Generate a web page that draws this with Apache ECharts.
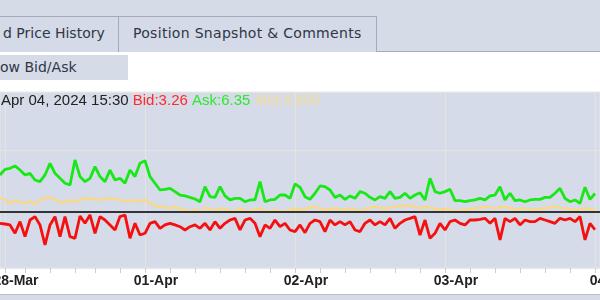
<!DOCTYPE html>
<html><head><meta charset="utf-8">
<script src="https://cdn.jsdelivr.net/npm/echarts@6/dist/echarts.min.js"></script>
<style>
html,body{margin:0;padding:0;width:600px;height:300px;overflow:hidden;background:#fff;font-family:Tahoma,"DejaVu Sans",sans-serif;}
#chart{position:absolute;left:0;top:0;width:600px;height:300px;z-index:2;}
.strip{position:absolute;left:0;top:0;width:600px;height:51px;background:#d6dbe8;border-bottom:1px solid #a3abbb;z-index:1;}
.tab{position:absolute;top:16px;height:36px;box-sizing:border-box;border:1px solid #a3abbb;border-bottom:none;background:#d4dae7;color:#2f3646;font-size:14px;line-height:33px;white-space:nowrap;z-index:1;}
.btn{position:absolute;left:0;top:55px;width:128px;height:25px;background:#d6dbe8;color:#2f3646;font-size:14px;line-height:25px;white-space:nowrap;z-index:1;}
.band{position:absolute;left:0;top:294px;width:600px;height:6px;background:#d6dbe8;border-top:1px solid #b9c0cd;z-index:1;}
</style></head>
<body>
<div class="strip"></div>
<div class="tab" style="left:-1px;width:120px;padding-left:3px;">d Price History</div>
<div class="tab" style="left:118px;width:259px;padding-left:14px;letter-spacing:0.3px;">Position Snapshot &amp; Comments</div>
<div class="btn">ow Bid/Ask</div>
<div class="band"></div>
<div id="chart"></div>
<script>
// trading-day labels and the slot index where each day starts (20-minute slots)
const dayLabels = ['28-Mar', '01-Apr', '02-Apr', '03-Apr', '04-Apr'];
const dayStart = [1, 29, 59, 89, 119];
const tickIdx = [1, 5, 10, 15, 19, 24, 29, 34, 39, 44, 49, 54, 59, 64, 69, 74, 79, 84, 89, 94, 99, 104, 109, 114, 119];
const slotCount = 121;

const headerTime = 'Apr 04, 2024 15:30';
const lastBid = 3.26;
const lastAsk = 6.35;
const lastMid = 4.805;

const ask = [7.93,8.41,8.50,8.70,8.35,7.93,8.07,7.50,7.36,7.93,8.92,8.07,7.64,7.22,7.08,9.21,7.79,7.36,7.64,8.64,
  7.79,7.36,8.35,7.50,7.64,7.22,8.35,7.79,8.92,9.15,7.79,7.22,6.65,6.71,6.79,6.51,6.22,6.14,6.02,5.88,
  5.65,6.93,6.08,6.02,6.93,6.14,5.80,5.94,5.94,5.65,5.80,5.80,7.36,5.65,5.80,5.85,6.22,6.22,5.94,7.16,
  6.88,6.08,5.85,6.37,6.99,6.93,6.65,6.02,6.22,5.85,6.14,5.94,6.51,6.37,6.02,5.80,6.08,5.94,6.51,5.94,
  6.02,6.37,5.94,6.22,6.42,5.80,7.64,6.51,6.37,6.51,6.71,5.74,5.74,5.65,5.74,5.80,5.94,5.80,6.14,6.22,
  6.93,5.80,6.37,5.74,5.80,5.65,5.80,5.85,5.85,6.02,6.02,6.37,6.79,5.94,5.65,5.80,5.51,6.88,5.85,6.35];

const bid = [3.81,3.75,3.67,2.96,3.95,2.67,4.09,4.38,3.67,1.96,3.67,4.38,2.67,4.38,2.67,2.53,4.43,3.81,4.52,2.96,
  4.38,4.09,3.67,3.24,4.38,4.52,2.53,3.81,2.81,2.96,3.81,3.95,3.38,3.67,3.81,3.67,3.52,3.24,3.52,3.67,
  3.38,3.81,3.24,3.95,3.38,3.81,4.09,4.23,3.24,4.09,4.23,3.81,2.67,3.67,3.38,4.09,3.52,3.81,3.24,3.10,
  3.67,3.01,3.81,4.09,3.95,3.10,4.09,3.67,3.95,3.67,3.95,3.24,3.10,3.81,4.09,3.67,3.95,3.67,4.23,3.38,
  3.81,4.09,4.23,4.38,2.81,4.09,2.53,2.96,3.81,3.24,3.95,4.09,3.81,3.67,4.09,4.09,4.15,4.23,3.81,4.23,
  2.39,4.23,3.95,4.23,3.67,4.09,3.95,3.95,4.23,4.09,3.95,3.81,4.23,4.09,4.23,3.95,4.38,2.39,3.81,3.26];

const mid = [5.94,5.85,5.51,5.74,5.65,5.51,5.65,5.42,5.80,5.94,6.02,5.80,5.57,5.57,5.80,5.65,5.80,5.94,5.88,5.85,
  5.80,5.85,5.94,5.85,5.80,5.68,5.74,5.80,5.65,5.80,5.51,5.31,5.22,5.17,5.08,5.22,5.05,4.94,4.80,5.00,
  4.71,5.17,5.00,4.86,5.08,5.00,4.89,4.83,5.08,4.86,4.89,4.97,5.08,4.86,4.83,4.94,4.86,4.83,4.94,5.05,
  4.94,5.05,5.14,5.22,5.05,4.94,5.02,5.08,5.00,4.94,5.02,5.02,4.80,5.02,5.14,5.22,5.14,5.08,5.14,5.22,
  5.28,5.34,5.28,5.22,5.08,5.20,5.17,5.05,4.94,5.05,4.94,4.83,4.92,4.94,5.02,5.08,5.14,5.22,5.17,5.08,
  5.17,5.22,5.11,4.97,5.02,5.08,5.00,4.94,5.02,5.08,5.17,5.22,5.14,5.08,5.00,4.94,5.00,5.08,5.02,4.94];

// category axis: one entry per slot
const cats = [];
for (let i = 0; i < slotCount; i++) {
  let d = 0;
  for (let k = 0; k < dayStart.length; k++) if (i >= dayStart[k]) d = k;
  cats.push(dayLabels[d] + ' #' + i);
}

const FONT = 'Arial, "Liberation Sans", sans-serif';
const labelStyle = {fontFamily: FONT, fontSize: 14, fontWeight: 'bold', color: '#222'};
const chart = echarts.init(document.getElementById('chart'), null, {renderer: 'canvas'});
const lineBase = {type: 'line', showSymbol: false, symbol: 'none', animation: false, smooth: false};
chart.setOption({
  animation: false,
  backgroundColor: 'transparent',
  title: {
    left: 1, top: 93, padding: 0,
    text: '{t|' + headerTime + '} {b|Bid:' + lastBid.toFixed(2) + '} {a|Ask:' + lastAsk.toFixed(2) + '} {m|Mid:' + lastMid.toFixed(3) + '}',
    textStyle: {
      fontFamily: FONT, fontSize: 15, fontWeight: 'normal',
      rich: {
        t: {color: '#222222', fontSize: 15, fontFamily: FONT},
        b: {color: '#ff2a2a', fontSize: 15, fontFamily: FONT},
        a: {color: '#2ee82e', fontSize: 15, fontFamily: FONT},
        m: {color: '#f3dc98', fontSize: 15, fontFamily: FONT}
      }
    }
  },
  grid: {left: 0, right: 0, top: 92, bottom: 32, containLabel: false, outerBoundsMode: 'none',
    show: true, backgroundColor: '#d5dbe8', borderColor: '#e4e6ea', borderWidth: 1},
  xAxis: {
    type: 'category', data: cats, boundaryGap: false,
    axisLine: {show: true, lineStyle: {color: '#e4e6ea'}},
    axisTick: {show: true, length: 5, interval: (i) => tickIdx.includes(i), lineStyle: {color: '#c9ccd2'}},
    axisLabel: {
      show: true, interval: (i) => dayStart.includes(i), margin: 6, hideOverlap: false,
      formatter: (v, i) => {
        const k = dayStart.indexOf(i);
        if (k < 0) return '';
        return (k === dayStart.length - 1 ? '{e|' : '{d|') + dayLabels[k] + '}';
      },
      rich: {
        d: Object.assign({padding: [0, 0, 0, 22]}, labelStyle),
        e: Object.assign({padding: [0, 0, 0, 34]}, labelStyle)
      }
    },
    splitLine: {show: true, interval: (i) => dayStart.includes(i), lineStyle: {color: '#e6e4dc', width: 1}}
  },
  yAxis: {
    type: 'value', min: 0, max: 15, interval: 10,
    axisLine: {show: false}, axisTick: {show: false}, axisLabel: {show: false},
    splitLine: {show: true, lineStyle: {color: '#e6e4dc', width: 1}}
  },
  series: [
    Object.assign({}, lineBase, {name: 'Mid', data: mid, lineStyle: {color: '#f8d98a', width: 2.5}, z: 2}),
    Object.assign({}, lineBase, {name: 'Bid', data: bid, lineStyle: {color: '#f51010', width: 2.8}, z: 3}),
    Object.assign({}, lineBase, {name: 'Ask', data: ask, lineStyle: {color: '#18e818', width: 2.8}, z: 3}),
    Object.assign({}, lineBase, {name: 'Ref', data: [], z: 5,
      markLine: {silent: true, symbol: 'none', label: {show: false}, lineStyle: {color: '#333333', width: 2, type: 'solid'}, data: [{yAxis: lastMid}]}})
  ]
});
</script>
</body></html>
